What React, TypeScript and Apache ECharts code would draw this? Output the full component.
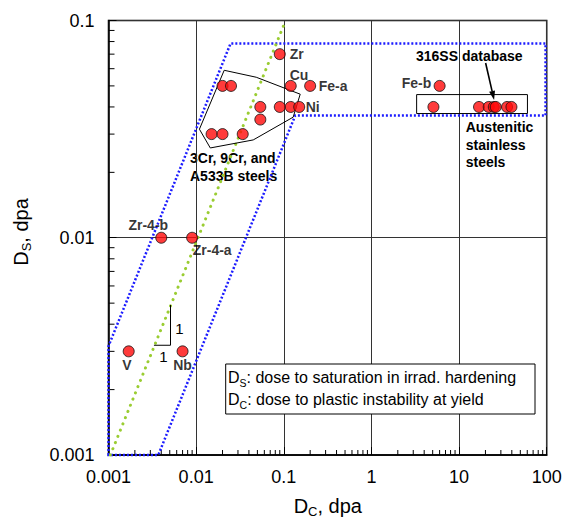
import React, { useEffect, useRef } from 'react';
import * as echarts from 'echarts';

const W = 567;
const H = 520;
const FONT = '"Liberation Sans", Arial, Helvetica, sans-serif';

// ---- axis ticks ----
const xTickValues = [0.001, 0.01, 0.1, 1, 10, 100];
const xTickLabels = ['0.001', '0.01', '0.1', '1', '10', '100'];
const yTickValues = [0.001, 0.01, 0.1];
const yTickLabels = ['0.001', '0.01', '0.1'];
const minorMultipliers = [2, 3, 4, 5, 6, 7, 8, 9];

// ---- data: ferritic steels (3Cr, 9Cr, A533B) ----
const ferriticDc = [0.02, 0.025, 0.054, 0.054, 0.015, 0.02, 0.034];
const ferriticDs = [0.05, 0.05, 0.04, 0.035, 0.03, 0.03, 0.03];

// ---- data: pure metals / alloys ----
const metalNames = ['Zr', 'Cu', 'Fe-a', '', '', 'Ni', 'Zr-4-b', 'Zr-4-a', 'V', 'Nb', 'Fe-b'];
const metalDc = [0.09, 0.12, 0.2, 0.09, 0.12, 0.15, 0.004, 0.009, 0.0017, 0.007, 6.0];
const metalDs = [0.07, 0.05, 0.05, 0.04, 0.04, 0.04, 0.01, 0.01, 0.003, 0.003, 0.05];

// ---- data: austenitic stainless steels (316SS database) ----
const austeniticDc = [5.1, 16.9, 21.8, 24.9, 26.2, 35.3, 39.6];
const austeniticDs = [0.04, 0.04, 0.04, 0.04, 0.04, 0.04, 0.04];

// ---- annotation geometry (data coordinates) ----
const envelopeDc = [0.001, 0.001, 0.0247, 97, 97, 0.135, 0.0037];
const envelopeDs = [0.001, 0.00317, 0.0784, 0.0784, 0.0365, 0.0365, 0.001];
const trendDc = [0.00105, 0.105];
const trendDs = [0.001, 0.1];
const ferriticHullDc = [0.0209, 0.0485, 0.154, 0.128, 0.0448, 0.0145, 0.0109];
const ferriticHullDs = [0.059, 0.0548, 0.0458, 0.0359, 0.0282, 0.0259, 0.0316];
const austeniticBoxDc = [3.28, 60.3];
const austeniticBoxDs = [0.0373, 0.0456];
const arrowDc = [20.1, 25.1];
const arrowDs = [0.0637, 0.0431];
const slopeDc = [0.0033, 0.0051, 0.0051];
const slopeDs = [0.0032, 0.0032, 0.0049];

// label placement (pixel offsets from the point centre)
const labelLayout: Record<string, { dx: number; dy: number; align: 'left' | 'center' | 'right' }> = {
  'Zr': { dx: 10, dy: 0, align: 'left' },
  'Cu': { dx: -1, dy: -11, align: 'left' },
  'Fe-a': { dx: 8.6, dy: 0, align: 'left' },
  'Ni': { dx: 6.5, dy: 0, align: 'left' },
  'Zr-4-b': { dx: -13, dy: -12.7, align: 'center' },
  'Zr-4-a': { dx: 0.6, dy: 12.3, align: 'left' },
  'V': { dx: -1.7, dy: 14, align: 'center' },
  'Nb': { dx: 0, dy: 14, align: 'center' },
  'Fe-b': { dx: -8.3, dy: -3.3, align: 'right' },
};

let measureCtx: CanvasRenderingContext2D | null = null;
function textWidth(t: string, size: number, weight = 'normal') {
  if (!measureCtx) measureCtx = document.createElement('canvas').getContext('2d');
  if (!measureCtx) return t.length * size * 0.55;
  measureCtx.font = `${weight} ${size}px ${FONT}`;
  return measureCtx.measureText(t).width;
}

type Part = { text: string; size: number; drop: number };
function runText(ox: number, oy: number, dir: [number, number], nrm: [number, number], rotation: number, parts: Part[]) {
  let adv = 0;
  return parts.map((p) => {
    const w = textWidth(p.text, p.size);
    const off = p.drop - 0.3465 * p.size;
    const el = {
      type: 'text',
      x: ox + dir[0] * adv + nrm[0] * off,
      y: oy + dir[1] * adv + nrm[1] * off,
      rotation,
      silent: true,
      style: { text: p.text, fontSize: p.size, fontFamily: FONT, fill: '#000', align: 'left', verticalAlign: 'middle' },
    };
    adv += w;
    return el;
  });
}
function runWidth(parts: Part[]) {
  return parts.reduce((s, p) => s + textWidth(p.text, p.size), 0);
}

function tickLabel(v: number, values: number[], labels: string[]) {
  let best = 0;
  let bd = Infinity;
  values.forEach((t, i) => {
    const d = Math.abs(Math.log10(v) - Math.log10(t));
    if (d < bd) { bd = d; best = i; }
  });
  return bd < 0.01 ? labels[best] : '';
}

function shapeSeries(dc: number[], ds: number[], kind: 'polygon' | 'polyline', style: any, z: number) {
  return {
    type: 'custom',
    coordinateSystem: 'cartesian2d',
    silent: true,
    z,
    data: dc.map((x, i) => [x, ds[i]]),
    renderItem: (params: any, api: any) => {
      if (params.dataIndex !== 0) return null;
      const pts = dc.map((x, i) => api.coord([x, ds[i]]));
      return { type: kind, shape: { points: pts }, style };
    },
  };
}

function buildOption() {
  const minorX = xTickValues.slice(0, -1).flatMap((d) => minorMultipliers.map((k) => k * d));
  const minorY = yTickValues.slice(0, -1).flatMap((d) => minorMultipliers.map((k) => k * d));

  const boxDc = [austeniticBoxDc[0], austeniticBoxDc[1], austeniticBoxDc[1], austeniticBoxDc[0]];
  const boxDs = [austeniticBoxDs[0], austeniticBoxDs[0], austeniticBoxDs[1], austeniticBoxDs[1]];

  const pointStyle = { color: '#ff0a0a', borderColor: '#111', borderWidth: 1 };
  const labelFont = { fontSize: 14, fontWeight: 'bold', fontFamily: FONT, color: '#000', textBorderWidth: 0 };

  const xTitle: Part[] = [
    { text: 'D', size: 20, drop: 0 },
    { text: 'C', size: 13, drop: 3.5 },
    { text: ', dpa', size: 20, drop: 0 },
  ];
  const yTitle: Part[] = [
    { text: 'D', size: 20, drop: 0 },
    { text: 'S', size: 13, drop: 4 },
    { text: ', dpa', size: 20, drop: 0 },
  ];
  const leg1: Part[] = [
    { text: 'D', size: 16, drop: 0 },
    { text: 'S', size: 10.5, drop: 3.4 },
    { text: ': dose to saturation in irrad. hardening', size: 16, drop: 0 },
  ];
  const leg2: Part[] = [
    { text: 'D', size: 16, drop: 0 },
    { text: 'C', size: 10.5, drop: 3.4 },
    { text: ': dose to plastic instability at yield', size: 16, drop: 0 },
  ];
  const xTitleW = runWidth(xTitle);
  const yTitleW = runWidth(yTitle);

  const annFont = { fontSize: 14, fontWeight: 'bold', fontFamily: FONT, fill: '#000' };

  return {
    animation: false,
    backgroundColor: '#ffffff',
    grid: {
      left: 108.5, right: 20.3, top: 20.5, bottom: 65,
      show: true, borderColor: '#000', borderWidth: 1.5, backgroundColor: 'transparent',
      containLabel: false, outerBoundsMode: 'none',
    },
    xAxis: {
      type: 'log', logBase: 10, min: 0.001, max: 100,
      axisLine: { show: true, lineStyle: { color: '#000', width: 1.5 } },
      axisTick: { show: true, inside: true, length: 8, lineStyle: { color: '#000', width: 1 } },
      axisLabel: {
        show: true, margin: 22, verticalAlign: 'middle', fontSize: 18, fontFamily: FONT, color: '#000',
        formatter: (v: number) => tickLabel(v, xTickValues, xTickLabels),
      },
      splitLine: { show: true, lineStyle: { color: '#333', width: 1 } },
    },
    yAxis: {
      type: 'log', logBase: 10, min: 0.001, max: 0.1,
      axisLine: { show: true, lineStyle: { color: '#000', width: 1.5 } },
      axisTick: { show: true, inside: true, length: 8, lineStyle: { color: '#000', width: 1 } },
      axisLabel: {
        show: true, margin: 14, fontSize: 18, fontFamily: FONT, color: '#000',
        formatter: (v: number) => tickLabel(v, yTickValues, yTickLabels),
      },
      splitLine: { show: true, lineStyle: { color: '#333', width: 1 } },
    },
    series: [
      {
        type: 'custom', coordinateSystem: 'cartesian2d', silent: true, z: 1,
        data: minorX.map((v) => [v, yTickValues[0]]),
        renderItem: (_p: any, api: any) => {
          const c = api.coord([api.value(0), api.value(1)]);
          return { type: 'line', shape: { x1: c[0], y1: c[1], x2: c[0], y2: c[1] - 5 }, style: { stroke: '#000', lineWidth: 1 } };
        },
      },
      {
        type: 'custom', coordinateSystem: 'cartesian2d', silent: true, z: 1,
        data: minorY.map((v) => [xTickValues[0], v]),
        renderItem: (_p: any, api: any) => {
          const c = api.coord([api.value(0), api.value(1)]);
          return { type: 'line', shape: { x1: c[0], y1: c[1], x2: c[0] + 6, y2: c[1] }, style: { stroke: '#000', lineWidth: 1 } };
        },
      },
      shapeSeries(envelopeDc, envelopeDs, 'polygon', { fill: 'none', stroke: '#1c1cff', lineWidth: 2.5, lineDash: [2, 2] }, 3),
      shapeSeries(trendDc, trendDs, 'polyline', { fill: 'none', stroke: '#9acd32', lineWidth: 3, lineCap: 'round', lineDash: [0.1, 6.6] }, 3),
      shapeSeries(ferriticHullDc, ferriticHullDs, 'polygon', { fill: 'none', stroke: '#000', lineWidth: 1 }, 4),
      shapeSeries(boxDc, boxDs, 'polygon', { fill: 'none', stroke: '#000', lineWidth: 1 }, 4),
      shapeSeries(slopeDc, slopeDs, 'polyline', { fill: 'none', stroke: '#000', lineWidth: 1 }, 4),
      {
        type: 'custom', coordinateSystem: 'cartesian2d', silent: true, z: 6,
        data: arrowDc.map((x, i) => [x, arrowDs[i]]),
        renderItem: (params: any, api: any) => {
          if (params.dataIndex !== 0) return null;
          const p1 = api.coord([arrowDc[0], arrowDs[0]]);
          const p2 = api.coord([arrowDc[1], arrowDs[1]]);
          const dx = p2[0] - p1[0];
          const dy = p2[1] - p1[1];
          const L = Math.hypot(dx, dy);
          const ux = dx / L;
          const uy = dy / L;
          const hl = 9;
          const hw = 3;
          const bx = p2[0] - ux * hl;
          const by = p2[1] - uy * hl;
          return {
            type: 'group',
            children: [
              { type: 'line', shape: { x1: p1[0], y1: p1[1], x2: bx, y2: by }, style: { stroke: '#000', lineWidth: 1.6 } },
              { type: 'polygon', shape: { points: [[p2[0], p2[1]], [bx - uy * hw, by + ux * hw], [bx + uy * hw, by - ux * hw]] }, style: { fill: '#000' } },
            ],
          };
        },
      },
      {
        type: 'scatter', z: 5, symbol: 'circle', symbolSize: 11, itemStyle: pointStyle,
        data: ferriticDc.map((x, i) => [x, ferriticDs[i]]),
      },
      {
        type: 'scatter', z: 5, symbol: 'circle', symbolSize: 11, itemStyle: pointStyle,
        data: austeniticDc.map((x, i) => [x, austeniticDs[i]]),
      },
      {
        type: 'scatter', z: 5, symbol: 'circle', symbolSize: 11, itemStyle: pointStyle,
        data: metalDc.map((x, i) => {
          const name = metalNames[i];
          const lay = labelLayout[name];
          return {
            value: [x, metalDs[i]],
            name,
            label: lay
              ? { show: true, formatter: name, position: 'inside', offset: [lay.dx, lay.dy], align: lay.align, verticalAlign: 'middle', ...labelFont }
              : { show: false },
          };
        }),
      },
    ],
    graphic: [
      { type: 'text', x: 416, y: 56, silent: true, style: { text: '316SS database', align: 'left', verticalAlign: 'middle', ...annFont } },
      { type: 'text', x: 465.7, y: 144.5, silent: true, style: { text: 'Austenitic\nstainless\nsteels', align: 'left', verticalAlign: 'middle', lineHeight: 17.8, ...annFont } },
      { type: 'text', x: 190, y: 167.2, silent: true, style: { text: '3Cr, 9Cr, and\nA533B steels', align: 'left', verticalAlign: 'middle', lineHeight: 17.7, ...annFont } },
      { type: 'text', x: 179.3, y: 328.3, silent: true, style: { text: '1', align: 'center', verticalAlign: 'middle', fontSize: 15, fontFamily: FONT, fill: '#000' } },
      { type: 'text', x: 163.3, y: 356.7, silent: true, style: { text: '1', align: 'center', verticalAlign: 'middle', fontSize: 15, fontFamily: FONT, fill: '#000' } },
      { type: 'rect', shape: { x: 225.7, y: 364, width: 309.3, height: 50 }, style: { fill: '#fff', stroke: '#000', lineWidth: 1 }, z: 10, silent: true },
      ...runText(228, 383.3, [1, 0], [0, 1], 0, leg1).map((e) => ({ ...e, z: 11 })),
      ...runText(228, 405, [1, 0], [0, 1], 0, leg2).map((e) => ({ ...e, z: 11 })),
      ...runText(327.8 - xTitleW / 2, 512.5, [1, 0], [0, 1], 0, xTitle),
      ...runText(27.5, 232 + yTitleW / 2, [0, -1], [1, 0], Math.PI / 2, yTitle),
    ],
  };
}

export default function App() {
  const ref = useRef<HTMLDivElement>(null);
  useEffect(() => {
    if (!ref.current) return;
    const chart = echarts.init(ref.current, null, { renderer: 'svg' });
    chart.setOption(buildOption() as any);
    return () => chart.dispose();
  }, []);
  return <div ref={ref} style={{ position: 'fixed', left: 0, top: 0, width: W, height: H, background: '#fff' }} />;
}
